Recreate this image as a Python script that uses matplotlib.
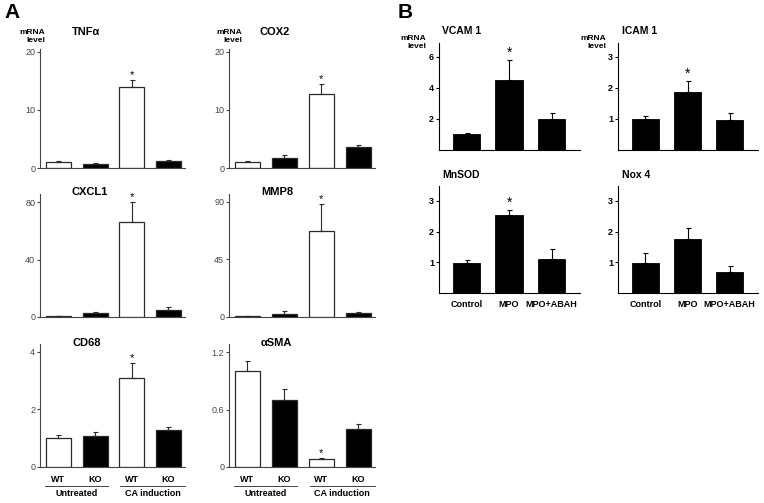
import numpy as np
import matplotlib
matplotlib.use('Agg')
import matplotlib.pyplot as plt

plt.rcParams['font.family'] = ['Liberation Sans', 'DejaVu Sans']

# ---- panel A data (WT untreated, KO untreated, WT CA, KO CA)
a_groups = ['WT', 'KO', 'WT', 'KO']
a_conditions = ['Untreated', 'CA induction']
tnfa = [1.0, 0.7, 13.9, 1.2]
tnfa_err = [0.2, 0.1, 1.3, 0.15]
cox2 = [1.0, 1.7, 12.7, 3.6]
cox2_err = [0.15, 0.5, 1.7, 0.4]
cxcl1 = [0.5, 2.5, 66, 5.2]
cxcl1_err = [0.4, 1.0, 14, 1.8]
mmp8 = [0.6, 2.2, 67, 3.0]
mmp8_err = [0.5, 2.8, 21, 0.8]
cd68 = [1.0, 1.09, 3.1, 1.29]
cd68_err = [0.1, 0.12, 0.5, 0.11]
asma = [1.0, 0.70, 0.085, 0.40]
asma_err = [0.105, 0.11, 0.01, 0.045]

# ---- panel B data
b_groups = ['Control', 'MPO', 'MPO+ABAH']
vcam1 = [1.0, 4.5, 2.0]
vcam1_err = [0.1, 1.3, 0.37]
icam1 = [1.0, 1.88, 0.98]
icam1_err = [0.1, 0.35, 0.2]
mnsod = [0.98, 2.53, 1.12]
mnsod_err = [0.09, 0.17, 0.32]
nox4 = [0.98, 1.77, 0.68]
nox4_err = [0.31, 0.33, 0.2]

W, H = 764, 503
fig = plt.figure(figsize=(W / 100, H / 100), dpi=100)


def px_axes(left, top, right, bottom):
    return fig.add_axes([left / W, 1 - bottom / H, (right - left) / W, (bottom - top) / H])


def ftext(x, y, s, **kw):
    fig.text(x / W, 1 - y / H, s, **kw)


def panel_a(box, vals, errs, ticks, ytop, star, bottom_labels=False):
    ax = px_axes(*box)
    x = np.arange(len(vals))
    ec = '#2a2a2a'
    ax.bar(x, vals, width=0.68, color=['white', 'black', 'white', 'black'],
           edgecolor=ec, linewidth=0.9, zorder=2)
    ax.errorbar(x, vals, yerr=[np.zeros(len(vals)), errs], fmt='none', ecolor=ec,
                elinewidth=0.8, capsize=1.8, capthick=0.8, zorder=3)
    i = star
    ax.annotate('*', (x[i], vals[i] + errs[i]), xytext=(0, 0), textcoords='offset points',
                ha='center', va='bottom', fontsize=8)
    ax.set_xlim(-0.5, 3.45)
    ax.set_ylim(0, ytop)
    ax.set_yticks(ticks)
    ax.set_yticklabels([('%g' % t) for t in ticks])
    for s in ['top', 'right']:
        ax.spines[s].set_visible(False)
    for s in ['left', 'bottom']:
        ax.spines[s].set_color('#444444')
        ax.spines[s].set_linewidth(0.8)
    ax.tick_params(axis='y', direction='out', length=2.5, width=0.8, colors='#444444',
                   labelsize=6.5, pad=1)
    ax.tick_params(axis='x', length=0)
    if bottom_labels:
        ax.set_xticks(x)
        ax.set_xticklabels(a_groups, fontsize=6.5, fontweight='bold')
        ax.tick_params(axis='x', pad=6)
        tr = ax.get_xaxis_transform()
        for (x0, x1), name in zip([(-0.37, 1.35), (1.68, 3.45)], a_conditions):
            ax.plot([x0, x1], [-0.152, -0.152], transform=tr, clip_on=False, color='#444444', lw=0.7)
            ax.text(x0 / 2 + x1 / 2, -0.215, name, transform=tr, ha='center', va='center',
                    fontsize=6.5, fontweight='bold')
    else:
        ax.set_xticks([])
    return ax


def panel_b(box, vals, errs, ticks, ytop, star=None, bottom_labels=False):
    ax = px_axes(*box)
    x = np.arange(len(vals))
    ax.bar(x, vals, width=0.64, color='black', edgecolor='black', linewidth=0.6, zorder=2)
    ax.errorbar(x, vals, yerr=[np.zeros(len(vals)), errs], fmt='none', ecolor='black',
                elinewidth=0.8, capsize=1.8, capthick=0.8, zorder=3)
    if star is not None:
        ax.annotate('*', (x[star], vals[star] + errs[star]), xytext=(0, 0),
                    textcoords='offset points', ha='center', va='bottom', fontsize=10)
    ax.set_xlim(-0.65, 2.67)
    ax.set_ylim(0, ytop)
    ax.set_yticks(ticks)
    ax.set_yticklabels([('%g' % t) for t in ticks], fontweight='bold')
    for s in ['top', 'right']:
        ax.spines[s].set_visible(False)
    for s in ['left', 'bottom']:
        ax.spines[s].set_linewidth(0.8)
    ax.tick_params(axis='y', direction='out', length=2.5, width=0.8, labelsize=6.5, pad=1)
    ax.tick_params(axis='x', length=0)
    if bottom_labels:
        ax.set_xticks(x)
        ax.set_xticklabels(b_groups, fontsize=6.5, fontweight='bold')
        ax.tick_params(axis='x', pad=5)
    else:
        ax.set_xticks([])
    return ax


# panel A
panel_a((40, 49, 185, 168), tnfa, tnfa_err, [0, 10, 20], 20.5, 2)
panel_a((229, 49, 375, 168), cox2, cox2_err, [0, 10, 20], 20.5, 2)
panel_a((40, 194, 185, 317), cxcl1, cxcl1_err, [0, 40, 80], 85.6, 2)
panel_a((229, 194, 375, 317), mmp8, mmp8_err, [0, 45, 90], 96.2, 2)
panel_a((40, 344, 185, 467), cd68, cd68_err, [0, 2, 4], 4.27, 2, bottom_labels=True)
panel_a((229, 344, 375, 467), asma, asma_err, [0, 0.6, 1.2], 1.284, 2, bottom_labels=True)

# panel B
panel_b((439, 43, 580, 150), vcam1, vcam1_err, [2, 4, 6], 6.9, star=1)
panel_b((618, 43, 758, 150), icam1, icam1_err, [1, 2, 3], 3.45, star=1)
panel_b((439, 186, 580, 293), mnsod, mnsod_err, [1, 2, 3], 3.48, star=1, bottom_labels=True)
panel_b((618, 186, 758, 293), nox4, nox4_err, [1, 2, 3], 3.48, bottom_labels=True)

# titles
tkw = dict(ha='center', va='center', fontsize=8, fontweight='bold')
ftext(86, 32, 'TNF\u03b1', **tkw)
ftext(275, 32, 'COX2', **tkw)
ftext(90, 192, 'CXCL1', **tkw)
ftext(277, 192, 'MMP8', **tkw)
ftext(87, 343, 'CD68', **tkw)
ftext(276, 343, '\u03b1SMA', **tkw)

bkw = dict(ha='left', va='center', fontweight='bold', fontsize=7.5)
ftext(442, 31, 'VCAM 1', **bkw)
ftext(622, 31, 'ICAM 1', **bkw)
ftext(442, 175, 'MnSOD', **bkw)
ftext(622, 175, 'Nox 4', **bkw)

mkw = dict(ha='right', va='center', multialignment='right', fontsize=6,
           fontweight='bold', linespacing=1.15)
ftext(45, 36.5, 'mRNA\nlevel', **mkw)
ftext(242, 36.5, 'mRNA\nlevel', **mkw)
ftext(426, 42.5, 'mRNA\nlevel', **mkw)
ftext(606, 42.5, 'mRNA\nlevel', **mkw)

# panel letters
ftext(4, 13, 'A', fontsize=15, fontweight='bold', va='center', ha='left')
ftext(398, 12, 'B', fontsize=15, fontweight='bold', va='center', ha='left')

fig.savefig('out.png', dpi=100)
